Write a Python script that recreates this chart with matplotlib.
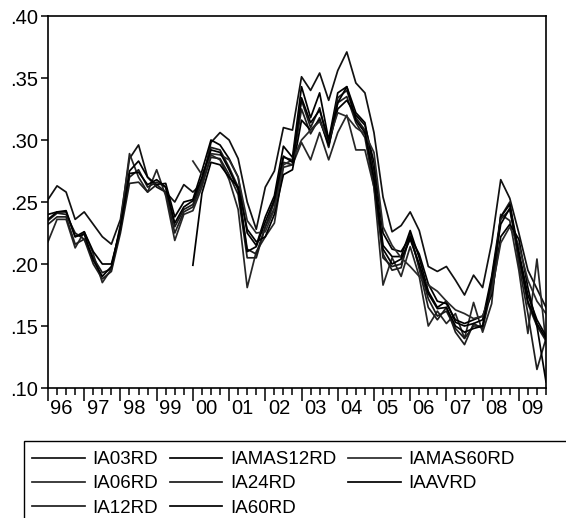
import matplotlib

matplotlib.use("Agg")

import numpy as np  # noqa: E402
import matplotlib.pyplot as plt  # noqa: E402
from matplotlib.patches import Rectangle  # noqa: E402
from matplotlib.ticker import FixedLocator, NullFormatter  # noqa: E402

plt.rcParams["font.family"] = ["Liberation Sans", "DejaVu Sans"]

# quarterly observations 1996Q1 .. 2009Q4
start_year = 1996
n_obs = 56
years = list(range(1996, 2010))
year_labels = ["96", "97", "98", "99", "00", "01", "02", "03", "04", "05", "06", "07", "08", "09"]
y_ticks = [0.10, 0.15, 0.20, 0.25, 0.30, 0.35, 0.40]

nan = float("nan")

ia03rd = [.252, .263, .258, .236, .242, .232, .222, .216, .236, .285, .296, .270,
          .262, .258, .250, .264, .258, .265, .298, .306, .300, .285, .250, .228,
          .262, .275, .310, .308, .351, .340, .354, .332, .356, .371, .346, .338,
          .306, .254, .226, .231, .242, .227, .198, .194, .198, .187, .175, .191,
          .181, .217, .268, .253, .225, .195, .180, .165]
ia06rd = [.218, .236, .236, .213, .226, .208, .185, .196, .232, .289, .270, .258,
          .276, .255, .219, .240, .243, .262, .288, .284, .268, .244, .181, .210,
          .222, .233, .278, .280, .298, .284, .306, .284, .306, .320, .292, .292,
          .262, .183, .205, .190, .214, .190, .150, .162, .152, .160, .140, .169,
          .145, .168, .240, .235, .195, .144, .204, .136]
ia12rd = [.232, .238, .238, .216, .220, .200, .188, .194, .225, .265, .266, .258,
          .264, .258, .225, .242, .246, .265, .286, .285, .272, .256, .205, .205,
          .230, .245, .282, .280, .325, .305, .318, .294, .330, .335, .314, .302,
          .262, .208, .195, .197, .225, .196, .165, .155, .165, .145, .135, .152,
          .148, .180, .238, .250, .200, .160, .115, .140]
iamas12rd = [.240, .242, .242, .222, .226, .210, .200, .200, .228, .275, .283, .270,
             .264, .265, .238, .250, .252, .275, .300, .296, .285, .270, .225, .215,
             .238, .255, .295, .286, .343, .318, .338, .300, .338, .343, .322, .314,
             .275, .215, .206, .206, .227, .205, .178, .165, .170, .153, .150, .152,
             .155, .190, .238, .248, .210, .175, .155, .142]
ia24rd = [.235, .241, .240, .225, .220, .205, .193, .196, .228, .270, .276, .262,
          .266, .262, .230, .244, .248, .268, .294, .292, .278, .262, .212, .208,
          .230, .250, .286, .284, .332, .310, .326, .295, .334, .340, .318, .308,
          .270, .205, .198, .200, .222, .198, .172, .158, .162, .148, .140, .150,
          .150, .185, .236, .244, .205, .168, .150, .138]
ia60rd = [nan] * 16 + [
          .199, .257, .282, .280, .270, .262, .228, .218,
          .222, .240, .272, .276, .316, .308, .316, .296, .325, .332, .320, .312,
          .282, .225, .212, .210, .222, .208, .184, .170, .168, .155, .152, .155,
          .158, .175, .222, .232, .220, .181, .150, .105]
iamas60rd = [nan] * 16 + [
             .283, .272, .289, .288, .284, .270, .235, .225,
             .226, .244, .280, .284, .300, .308, .315, .300, .322, .319, .310, .305,
             .290, .230, .215, .205, .198, .190, .183, .178, .170, .163, .160, .156,
             .158, .178, .217, .230, .215, .187, .170, .160]
iaavrd = [.236, .242, .243, .222, .224, .203, .190, .198, .230, .273, .274, .264,
          .268, .262, .233, .246, .251, .270, .292, .290, .276, .260, .210, .214,
          .234, .252, .287, .282, .334, .314, .324, .300, .330, .343, .316, .306,
          .268, .212, .200, .204, .220, .200, .176, .164, .165, .150, .145, .148,
          .150, .188, .232, .245, .208, .170, .152, .140]

series = [
    ("IA03RD", ia03rd, "#111111"),
    ("IA06RD", ia06rd, "#262626"),
    ("IA12RD", ia12rd, "#1e1e1e"),
    ("IAMAS12RD", iamas12rd, "#000000"),
    ("IA24RD", ia24rd, "#1a1a1a"),
    ("IA60RD", ia60rd, "#000000"),
    ("IAMAS60RD", iamas60rd, "#2a2a2a"),
    ("IAAVRD", iaavrd, "#000000"),
]

W, H = 566, 518
fig = plt.figure(figsize=(W / 100, H / 100), dpi=100)
ax = fig.add_axes([48 / W, 1 - 388 / H, (546 - 48) / W, (388 - 16) / H])

t = start_year + np.arange(n_obs) / 4.0
for name, vals, col in series:
    ax.plot(t, vals, color=col, lw=1.25, label=name)

ax.set_xlim(start_year, start_year + (n_obs - 1) / 4.0)
ax.set_ylim(0.10, 0.40)

# x axis: long ticks at year starts, short ticks at quarters, labels mid-year
ax.xaxis.set_major_locator(FixedLocator(years))
ax.xaxis.set_minor_locator(FixedLocator(t))
ax.xaxis.set_major_formatter(NullFormatter())
ax.tick_params(axis="x", which="major", direction="out", length=9, width=1.1)
ax.tick_params(axis="x", which="minor", direction="out", length=5, width=1.1)
for yr, lab in zip(years, year_labels):
    ax.text(yr + 0.375, -0.030, lab, transform=ax.get_xaxis_transform(),
            ha="center", va="top", fontsize=14.5)

ax.set_yticks(y_ticks)
ax.set_yticklabels([("%.2f" % v)[1:] for v in y_ticks], fontsize=14.5)
ax.tick_params(axis="y", direction="out", length=5, width=1.1, pad=2)
ax.tick_params(top=False, right=False)
for sp in ax.spines.values():
    sp.set_linewidth(1.2)

# legend below the plot, box runs off the bottom/right of the image
fig.patches.append(Rectangle((24 / W, -0.05), (W + 5 - 24) / W, 1.05 - 441 / H,
                             transform=fig.transFigure, fill=False,
                             edgecolor="black", lw=1.0, clip_on=False))
handles, labels = ax.get_legend_handles_labels()
fig.legend(handles, labels, ncol=3, loc="upper left",
           bbox_to_anchor=(32 / W, 1 - 451 / H), frameon=False,
           fontsize=13.5, handlelength=2.8, handletextpad=0.4,
           columnspacing=0.65, labelspacing=0.38, borderaxespad=0, borderpad=0)

fig.savefig("out.png", dpi=100, facecolor="white")
plt.close(fig)
